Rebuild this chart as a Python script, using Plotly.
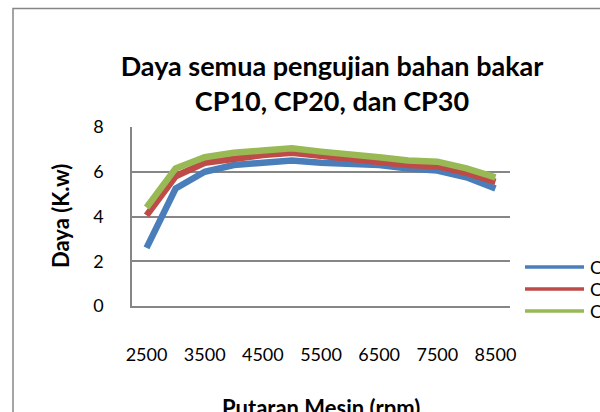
import plotly.graph_objects as go

rpm = [2500, 3000, 3500, 4000, 4500, 5000, 5500, 6000, 6500, 7000, 7500, 8000, 8500]
cp10 = [2.6, 5.25, 6.0, 6.3, 6.4, 6.5, 6.4, 6.35, 6.3, 6.15, 6.05, 5.75, 5.25]
cp20 = [4.05, 5.8, 6.4, 6.6, 6.75, 6.85, 6.7, 6.6, 6.45, 6.3, 6.25, 5.95, 5.55]
cp30 = [4.4, 6.15, 6.65, 6.85, 6.95, 7.05, 6.9, 6.8, 6.65, 6.5, 6.45, 6.15, 5.75]
series_names = ["CP10", "CP20", "CP30"]
colors = ["#4A7EBB", "#BE4B48", "#98B954"]
x_ticks = [2500, 3500, 4500, 5500, 6500, 7500, 8500]
y_ticks = [0, 2, 4, 6, 8]

W, H = 600, 412
L, R, T, B = 132, 90, 127, 106
pw, ph = W - L - R, H - T - B

def px(xpix):
    return (xpix - L) / pw

def py(ypix):
    return (H - B - ypix) / ph

fig = go.Figure()
for name, vals, c in zip(series_names, [cp10, cp20, cp30], colors):
    fig.add_trace(go.Scatter(x=rpm, y=vals, name=name, mode="lines",
                             line=dict(color=c, width=6.5), showlegend=False))

font = "Lato, 'Open Sans', sans-serif"
grid = "#868686"
clear = "rgba(0,0,0,0)"

# frame of the chart (cropped)
fig.add_shape(type="rect", xref="paper", yref="paper",
              x0=px(13), x1=px(640), y0=py(460), y1=py(8.5),
              line=dict(color=grid, width=1.5), layer="below")

# manual legend (cropped at right edge)
for i, (name, c) in enumerate(zip(series_names, colors)):
    yy = 267 + 22 * i
    fig.add_shape(type="line", xref="paper", yref="paper",
                  x0=px(525), x1=px(584), y0=py(yy), y1=py(yy),
                  line=dict(color=c, width=3.5))
    fig.add_annotation(xref="paper", yref="paper", x=px(588), y=py(yy),
                       text=name, showarrow=False, xanchor="left", yanchor="middle",
                       font=dict(family=font, size=18, color="black"))

# axis titles
fig.add_annotation(xref="paper", yref="paper", x=px(60), y=py(216),
                   text="<b>Daya (K.w)</b>", textangle=-90, showarrow=False,
                   xanchor="center", yanchor="middle",
                   font=dict(family=font, size=22, color="black"))
fig.add_annotation(xref="paper", yref="paper", x=px(321), y=py(407),
                   text="<b>Putaran Mesin (rpm)</b>", showarrow=False,
                   xanchor="center", yanchor="middle",
                   font=dict(family=font, size=22, color="black"))

fig.update_layout(
    width=W, height=H,
    margin=dict(l=L, r=R, t=T, b=B, autoexpand=False),
    paper_bgcolor="white", plot_bgcolor="white",
    title=dict(text="<b>Daya semua pengujian bahan bakar<br>CP10, CP20, dan CP30</b>",
               x=332 / W, xref="container", xanchor="center",
               y=1 - 76 / H, yref="container", yanchor="middle",
               font=dict(family=font, size=27, color="black")),
    xaxis=dict(range=[2250, 8750], tickvals=x_ticks, ticktext=[str(v) for v in x_ticks],
               showgrid=False, showline=True, linecolor=grid, linewidth=1.5,
               zeroline=False, ticks="outside", ticklen=32, tickcolor=clear,
               tickfont=dict(family=font, size=18, color="black")),
    yaxis=dict(range=[0, 8], tickvals=y_ticks, showgrid=True, gridcolor=grid, gridwidth=1.5,
               showline=True, linecolor=grid, linewidth=1.5, zeroline=False,
               ticks="outside", ticklen=23, tickcolor=clear,
               tickfont=dict(family=font, size=18, color="black")),
)

fig.write_html("out.html", post_script="document.body.style.margin='0';",
               config={"displayModeBar": False})
